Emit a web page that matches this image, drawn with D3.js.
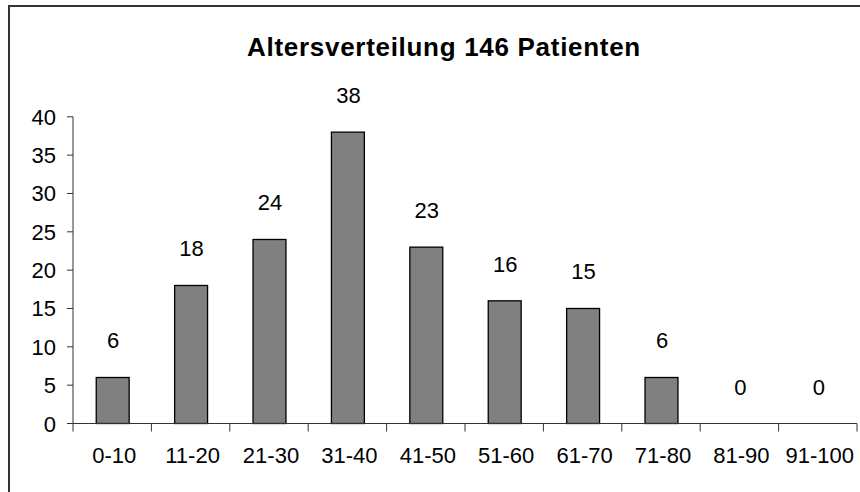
<!DOCTYPE html>
<html><head><meta charset="utf-8">
<script src="https://cdn.jsdelivr.net/npm/d3@7"></script>
<style>body{margin:0;background:#fff}svg{display:block}</style>
</head><body>
<svg id="c" width="860" height="492"></svg>
<script>
const categories = ["0-10","11-20","21-30","31-40","41-50","51-60","61-70","71-80","81-90","91-100"];
const values = [6,18,24,38,23,16,15,6,0,0];
const yTicks = [0,5,10,15,20,25,30,35,40];
const title = "Altersverteilung 146 Patienten";

(function(){
const svg = d3.select("#c");
const font = "Liberation Sans, Arial, sans-serif";
// frame (top and left only visible)
svg.append("line").attr("x1",9).attr("x2",860).attr("y1",6).attr("y2",6).attr("stroke","#333").attr("stroke-width",2);
svg.append("line").attr("x1",9).attr("x2",9).attr("y1",5).attr("y2",492).attr("stroke","#333").attr("stroke-width",2);

const pLeft=73, pRight=857, pTop=116.8, pBottom=423.5;
const x = d3.scaleBand().domain(categories).range([pLeft,pRight]).padding(0);
const y = d3.scaleLinear().domain([0,40]).range([pBottom,pTop]);

svg.append("text").attr("x",444).attr("y",56).attr("text-anchor","middle")
  .attr("font-family",font).attr("font-weight","bold").attr("font-size",26)
  .attr("letter-spacing",0.7).text(title);

const bw = x.bandwidth()*0.42;
svg.selectAll("rect.bar").data(values).join("rect").attr("class","bar")
  .attr("x",(d,i)=>x(categories[i])+x.bandwidth()/2-bw/2+0.5)
  .attr("y",d=>y(d)).attr("width",bw).attr("height",d=>pBottom-y(d))
  .attr("fill",d=>d>0?"#808080":"none").attr("stroke",d=>d>0?"#000":"none").attr("stroke-width",1.3);

svg.selectAll("text.lbl").data(values).join("text").attr("class","lbl")
  .attr("x",(d,i)=>x(categories[i])+x.bandwidth()/2+1)
  .attr("y",d=>y(d)-29).attr("text-anchor","middle")
  .attr("font-family",font).attr("font-size",22).text(d=>d);

// y axis
const gy = svg.append("g");
gy.append("line").attr("x1",pLeft).attr("x2",pLeft).attr("y1",pTop).attr("y2",pBottom).attr("stroke","#333");
gy.selectAll("line.t").data(yTicks).join("line").attr("class","t")
  .attr("x1",pLeft-6).attr("x2",pLeft).attr("y1",d=>y(d)).attr("y2",d=>y(d)).attr("stroke","#333");
gy.selectAll("text").data(yTicks).join("text")
  .attr("x",56).attr("y",d=>y(d)+8).attr("text-anchor","end")
  .attr("font-family",font).attr("font-size",22).text(d=>d);

// x axis
const gx = svg.append("g");
gx.append("line").attr("x1",pLeft).attr("x2",pRight).attr("y1",pBottom).attr("y2",pBottom).attr("stroke","#333");
const bounds = categories.map(c=>x(c)).concat([pRight]);
gx.selectAll("line.t").data(bounds).join("line").attr("class","t")
  .attr("x1",d=>d).attr("x2",d=>d).attr("y1",pBottom).attr("y2",pBottom+8).attr("stroke","#333");
gx.selectAll("text").data(categories).join("text")
  .attr("x",d=>x(d)+x.bandwidth()/2+2).attr("y",463).attr("text-anchor","middle")
  .attr("font-family",font).attr("font-size",22).text(d=>d);
})();
</script>
</body></html>
